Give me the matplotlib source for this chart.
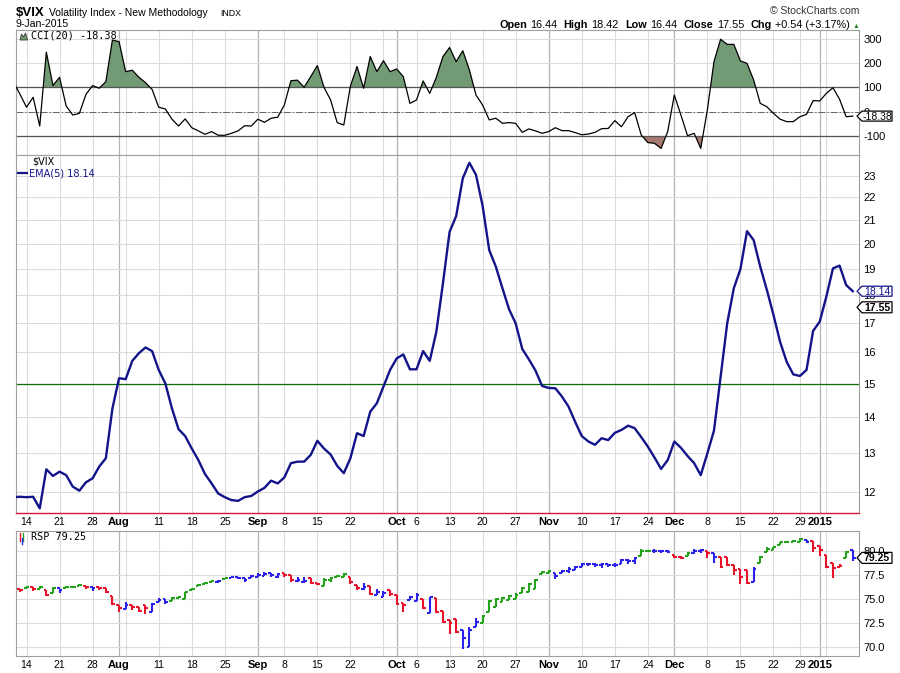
import numpy as np
import pandas as pd
import matplotlib
matplotlib.use("Agg")
import matplotlib.pyplot as plt
from matplotlib.patches import Polygon
from matplotlib.transforms import Affine2D
from matplotlib.ticker import NullLocator, FixedLocator

plt.rcParams['font.family'] = ['Liberation Sans', 'DejaVu Sans']

# trading days 10-Jul-2014 .. 9-Jan-2015
holidays = ["2014-09-01", "2014-11-27", "2014-12-25", "2015-01-01"]
dates = pd.bdate_range("2014-07-10", "2015-01-09")
dates = dates[~dates.isin(pd.to_datetime(holidays))]

vix_ema = [11.88, 11.89, 11.88, 11.89, 11.61, 12.58, 12.41, 12.52, 12.43, 12.14,
           12.04, 12.25, 12.35, 12.65, 12.87, 14.26, 15.17, 15.14, 15.72, 15.97,
           16.16, 16.04, 15.43, 15.01, 14.26, 13.66, 13.47, 13.13, 12.82, 12.46,
           12.22, 11.97, 11.88, 11.81, 11.79, 11.88, 11.91, 12.02, 12.11, 12.29,
           12.22, 12.37, 12.74, 12.78, 12.78, 12.96, 13.34, 13.13, 12.97, 12.67,
           12.48, 12.87, 13.55, 13.47, 14.16, 14.41, 14.91, 15.43, 15.80, 15.93,
           15.45, 15.45, 16.04, 15.72, 16.69, 18.44, 20.49, 21.17, 22.88, 23.62,
           23.04, 21.62, 19.74, 19.08, 18.25, 17.48, 16.98, 16.11, 15.77, 15.41,
           14.93, 14.87, 14.86, 14.61, 14.31, 13.87, 13.47, 13.32, 13.23, 13.41,
           13.36, 13.56, 13.64, 13.76, 13.69, 13.44, 13.18, 12.89, 12.59, 12.82,
           13.32, 13.15, 12.93, 12.74, 12.43, 13.00, 13.62, 15.22, 16.98, 18.25,
           18.98, 20.52, 20.15, 19.08, 18.19, 17.28, 16.35, 15.69, 15.29, 15.24,
           15.43, 16.72, 17.04, 17.94, 19.01, 19.12, 18.37, 18.14]

cci = [123, 72, 18, 59, -59, 244, 107, 141, 23, -14,
       -7, 71, 107, 96, 123, 294, 287, 164, 170, 141,
       119, 91, 18, 11, -31, -59, -30, -66, -79, -93,
       -82, -97, -97, -89, -79, -58, -59, -31, -44, -27,
       -23, 27, 127, 129, 100, 144, 189, 100, 48, -45,
       -55, 105, 185, 96, 226, 164, 209, 164, 175, 144,
       34, 48, 126, 75, 141, 226, 263, 205, 250, 171,
       68, 27, -34, -27, -48, -45, -48, -85, -71, -79,
       -89, -82, -66, -78, -78, -86, -95, -92, -85, -70,
       -69, -37, -62, -21, -4, -96, -127, -130, -151, -82,
       68, -14, -99, -89, -151, 7, 205, 297, 276, 276,
       208, 198, 130, 34, 20, -7, -31, -41, -41, -21,
       -11, 45, 44, 75, 98, 51, -21, -18.38]

rsp_open = [76.05, 75.98, 76.15, 76.26, 75.98, 75.91, 75.57, 76.09, 76.15, 76.26,
            76.33, 76.33, 76.19, 76.26, 76.09, 75.29, 74.36, 73.91, 74.36, 74.11,
            74.36, 73.60, 74.70, 74.94, 74.81, 75.05, 74.94, 75.91, 76.33, 76.54,
            76.78, 76.78, 77.05, 77.12, 77.23, 77.12, 77.12, 77.30, 77.37, 77.64,
            77.30, 77.71, 77.47, 76.88, 76.78, 77.12, 76.67, 76.33, 76.95, 77.23,
            77.30, 77.23, 76.43, 75.98, 76.33, 75.39, 75.15, 75.91, 75.39, 74.60,
            74.88, 74.81, 74.94, 73.49, 75.05, 73.77, 72.80, 72.87, 71.76, 70.03,
            72.11, 72.46, 73.67, 74.11, 74.70, 74.88, 74.94, 75.64, 75.74, 75.98,
            77.57, 77.64, 77.64, 77.64, 77.92, 77.99, 78.33, 78.58, 78.58, 78.51,
            78.58, 78.47, 78.61, 79.02, 78.96, 79.44, 79.99, 79.99, 79.99, 79.92,
            79.54, 79.37, 79.44, 79.72, 79.99, 79.99, 79.72, 79.30, 79.30, 78.51,
            78.06, 77.99, 76.78, 78.75, 79.89, 80.06, 80.58, 80.86, 80.86, 80.93,
            81.10, 81.03, 80.48, 79.54, 78.68, 78.33, 79.20, 80.06]
rsp_high = [76.09, 76.02, 76.33, 76.26, 76.33, 75.91, 76.19, 75.98, 76.33, 76.33,
            76.54, 76.33, 76.19, 76.26, 76.09, 75.29, 74.36, 74.70, 74.36, 74.18,
            74.36, 74.60, 75.05, 74.94, 75.15, 75.29, 75.74, 76.09, 76.54, 76.78,
            76.95, 76.95, 77.19, 77.30, 77.30, 77.12, 77.47, 77.64, 77.81, 77.71,
            77.64, 77.71, 77.47, 77.23, 77.23, 77.12, 76.67, 77.12, 77.30, 77.47,
            77.64, 77.23, 76.43, 76.60, 76.33, 75.98, 75.81, 75.91, 75.39, 74.60,
            75.29, 75.64, 74.94, 75.22, 75.05, 73.77, 72.80, 72.87, 71.76, 72.11,
            72.97, 73.32, 74.88, 75.05, 75.15, 75.39, 75.57, 76.26, 76.67, 77.02,
            77.92, 77.99, 77.64, 77.99, 78.26, 78.40, 78.68, 78.68, 78.68, 78.75,
            78.61, 78.68, 79.09, 79.09, 79.30, 80.13, 80.06, 80.13, 80.06, 80.06,
            79.54, 79.44, 79.89, 80.13, 80.13, 79.99, 79.72, 79.30, 79.30, 78.51,
            78.06, 77.99, 78.26, 79.44, 80.34, 80.41, 80.93, 80.93, 81.10, 81.27,
            81.10, 81.03, 80.48, 79.54, 78.68, 78.61, 79.99, 80.06]
rsp_low = [75.74, 75.67, 76.15, 75.84, 75.98, 75.29, 75.57, 75.57, 76.15, 76.19,
           76.33, 76.05, 75.81, 75.91, 75.57, 74.36, 73.67, 73.91, 73.84, 73.67,
           73.42, 73.60, 74.70, 74.46, 74.81, 75.05, 74.94, 75.91, 76.33, 76.54,
           76.78, 76.67, 77.05, 77.12, 77.02, 76.78, 77.12, 77.30, 77.37, 77.30,
           77.12, 77.30, 76.78, 76.78, 76.67, 76.54, 76.40, 76.33, 76.78, 77.23,
           77.30, 76.54, 75.91, 75.91, 75.39, 75.39, 75.15, 75.29, 74.36, 73.67,
           74.88, 74.81, 73.91, 73.49, 73.56, 72.52, 71.35, 71.42, 69.76, 70.03,
           72.11, 72.46, 73.67, 74.11, 74.70, 74.88, 74.94, 75.64, 75.74, 75.98,
           77.57, 77.64, 77.02, 77.64, 77.64, 77.99, 78.33, 78.40, 78.33, 78.16,
           78.26, 78.26, 78.61, 78.61, 78.61, 79.44, 79.89, 79.79, 79.79, 79.72,
           79.20, 79.09, 79.44, 79.65, 79.79, 79.20, 78.68, 78.16, 78.40, 77.47,
           76.54, 76.54, 76.78, 78.75, 79.89, 80.06, 80.58, 80.75, 80.86, 80.93,
           80.75, 79.89, 79.44, 78.16, 77.12, 78.26, 79.20, 78.96]
rsp_close = [75.98, 75.91, 76.26, 75.98, 76.26, 75.39, 76.09, 75.91, 76.26, 76.26,
             76.43, 76.26, 76.09, 76.09, 75.74, 74.43, 74.08, 74.36, 74.11, 73.77,
             74.01, 74.46, 74.88, 74.70, 75.05, 75.22, 75.67, 75.98, 76.43, 76.67,
             76.88, 76.88, 77.12, 77.23, 77.12, 76.95, 77.37, 77.47, 77.57, 77.47,
             77.57, 77.47, 76.95, 76.95, 76.88, 76.60, 76.54, 76.95, 77.12, 77.37,
             77.57, 76.78, 76.09, 76.26, 75.50, 75.74, 75.57, 75.46, 74.43, 74.36,
             75.15, 75.39, 74.01, 75.15, 73.67, 72.63, 72.46, 71.59, 70.90, 71.76,
             72.63, 73.22, 74.81, 74.94, 75.05, 75.33, 75.39, 76.09, 76.54, 76.95,
             77.81, 77.88, 77.37, 77.92, 78.06, 78.33, 78.58, 78.61, 78.51, 78.58,
             78.47, 78.51, 79.02, 78.96, 79.20, 79.99, 79.99, 79.99, 79.92, 79.89,
             79.37, 79.27, 79.72, 79.99, 80.06, 79.79, 79.37, 78.33, 78.51, 77.99,
             77.30, 76.60, 78.06, 79.37, 80.13, 80.34, 80.86, 80.86, 81.03, 81.17,
             80.93, 80.24, 80.06, 78.33, 78.16, 78.40, 79.89, 79.25]
rsp_colour = ("rrgrgrgbgg" "grbrrrrbrr" "rbbbgggggg" "gbgbbbbbbb" "brrbbrrggg"
              "grrbrbbrrr" "bbrbrrrrbb" "bggggggggg" "ggbbbbbbbb" "bbbbbggbbb"
              "rrgbbrbrrr" "rrbggggggg" "brrrrrgb")

vix_close = 17.55
cci_ticks = [-100, 0, 100, 200, 300]
vix_ticks = [12, 13, 14, 15, 16, 17, 18, 19, 20, 21, 22, 23]
rsp_ticks = [70.0, 72.5, 75.0, 77.5, 80.0]
header = [("Open", True), ("16.44", False), ("High", True), ("18.42", False),
          ("Low", True), ("16.44", False), ("Close", True), ("17.55", False),
          ("Chg", True), ("+0.54 (+3.17%)", False)]

W, H = 900, 673
fig = plt.figure(figsize=(9, 6.73), dpi=100)
pix = Affine2D().scale(1 / W, -1 / H).translate(0, 1) + fig.transFigure


def rect(l, t, r, b):
    return [l / W, 1 - b / H, (r - l) / W, (b - t) / H]


ax_cci = fig.add_axes(rect(16, 30, 859, 155))
ax_vix = fig.add_axes(rect(16, 155, 859, 512.7))
ax_rsp = fig.add_axes(rect(16, 530.7, 859, 656))

idx = np.arange(len(dates))
cci = np.array(cci, dtype=float)

# x grid: mondays (light) and first trading day of month (dark)
month_pos, week_pos = [], []
for i in range(1, len(dates)):
    if dates[i].month != dates[i - 1].month:
        month_pos.append(i)
    elif dates[i].weekday() == 0:
        week_pos.append(i)
tick_pos, tick_lab, tick_bold = [], [], []
for i in sorted(month_pos + week_pos):
    if i in month_pos:
        d = dates[i]
        tick_pos.append(i)
        tick_lab.append(str(d.year) if d.month == 1 else d.strftime("%b"))
        tick_bold.append(True)
    elif min(abs(i - m) for m in month_pos) > 2:
        tick_pos.append(i)
        tick_lab.append(str(dates[i].day))
        tick_bold.append(False)

for ax in (ax_cci, ax_vix, ax_rsp):
    ax.set_xlim(0.41, 127.94)
    for i in week_pos:
        ax.axvline(i, color="#dcdcdc", lw=0.8, zorder=0)
    for i in month_pos:
        ax.axvline(i, color="#b4b4b4", lw=0.9, zorder=0)
    ax.yaxis.tick_right()
    ax.tick_params(axis="y", length=0, pad=3, labelsize=8)
    ax.tick_params(axis="x", length=0, pad=3, labelsize=7.5)
    ax.yaxis.grid(True, color="#dcdcdc", lw=0.8)
    ax.set_axisbelow(True)
    for s in ax.spines.values():
        s.set_color("#a0a0a0")
        s.set_linewidth(0.8)
    ax.set_xticks(tick_pos)

# ---- CCI panel
ax_cci.set_ylim(-178, 335)
ax_cci.set_yticks(cci_ticks)
ax_cci.set_yticklabels([str(t) for t in cci_ticks])
ax_cci.set_xticklabels([])
ax_cci.fill_between(idx, cci, 100, where=cci >= 100, interpolate=True,
                    color="#729a74", lw=0, zorder=1)
ax_cci.fill_between(idx, cci, -100, where=cci <= -100, interpolate=True,
                    color="#a67a70", lw=0, zorder=1)
ax_cci.axhline(100, color="#555555", lw=0.9, zorder=2)
ax_cci.axhline(-100, color="#555555", lw=0.9, zorder=2)
ax_cci.axhline(0, color="#666666", lw=0.7, ls=(0, (7, 2, 1.5, 2)), zorder=2)
ax_cci.plot(idx, cci, color="black", lw=0.9, zorder=3)

# ---- VIX EMA panel
ax_vix.set_yscale("log")
ax_vix.set_ylim(11.507, 24.0)
ax_vix.yaxis.set_major_locator(FixedLocator(vix_ticks))
ax_vix.yaxis.set_minor_locator(NullLocator())
ax_vix.set_yticklabels([str(t) for t in vix_ticks])
ax_vix.axhline(15, color="#0a6e0a", lw=0.9, zorder=2)
ax_vix.plot(idx, vix_ema, color="#13138a", lw=1.7, zorder=3)
ax_vix.spines["bottom"].set_color("#d8143c")
ax_vix.spines["bottom"].set_linewidth(1.0)

# ---- RSP panel (OHLC bars)
ax_rsp.set_ylim(69.07, 82.07)
ax_rsp.set_yticks(rsp_ticks)
ax_rsp.set_yticklabels(["%.1f" % t for t in rsp_ticks])
cmap = {"r": "#e8132b", "g": "#24a31a", "b": "#2a22ec"}
for i in idx:
    c = cmap[rsp_colour[i]]
    kw = dict(color=c, lw=1.5, solid_capstyle="butt", zorder=3)
    ax_rsp.plot([i, i], [rsp_low[i], rsp_high[i]], **kw)
    ax_rsp.plot([i - 0.42, i], [rsp_open[i], rsp_open[i]], **kw)
    ax_rsp.plot([i, i + 0.42], [rsp_close[i], rsp_close[i]], **kw)

for ax in (ax_vix, ax_rsp):
    ax.set_xticklabels(tick_lab)
    for lab, b in zip(ax.get_xticklabels(), tick_bold):
        if b:
            lab.set_fontweight("bold")
            lab.set_fontsize(8)

# ---- header texts
fig.text(16, 16, "$VIX", transform=pix, fontsize=9.5, fontweight="bold", va="baseline")
fig.text(49, 16, "Volatility Index - New Methodology", transform=pix, fontsize=7.5,
         va="baseline")
fig.text(220, 16, "INDX", transform=pix, fontsize=6.3, va="baseline")
fig.text(16, 27, "9-Jan-2015", transform=pix, fontsize=7.6, va="baseline")
fig.text(859, 14, "\u00a9 StockCharts.com", transform=pix, fontsize=7.5, ha="right",
         va="baseline", color="#333333")

renderer = fig.canvas.get_renderer()
x = 499
for s, b in header:
    t = fig.text(x, 27.5, s, transform=pix, fontsize=7.8,
                 fontweight="bold" if b else "normal", va="baseline")
    x += t.get_window_extent(renderer).width + (3.5 if b else 6.3)
fig.text(x - 4, 27.5, "\u25b2", transform=pix, fontsize=5, color="#2a8a2a",
         va="baseline")

# ---- panel legends
mount = [(20, 40), (21.5, 34), (23.5, 37), (25.5, 33), (27.5, 40)]
fig.add_artist(Polygon(mount, closed=True, transform=pix, fc="#729a74",
                       ec="#333333", lw=0.6))
fig.text(31, 36, "CCI(20) -18.38", transform=pix, fontsize=7.3,
         family="DejaVu Sans Mono", va="center")
fig.text(32, 162, "$VIX", transform=pix, fontsize=7, family="DejaVu Sans",
         va="center")
fig.add_artist(plt.Line2D([18, 27], [173, 173], transform=pix, color="#13138a", lw=1.6))
fig.text(29, 173, "EMA(5) 18.14", transform=pix, fontsize=7, family="DejaVu Sans",
         color="#13138a", va="center")
fig.add_artist(plt.Line2D([20, 20], [533, 541], transform=pix, color="#e8132b", lw=1))
fig.add_artist(plt.Line2D([23, 23], [533, 541], transform=pix, color="#24a31a", lw=1))
fig.add_artist(plt.Line2D([21.5, 21.5], [538, 544], transform=pix, color="#2a22ec", lw=1))
fig.text(31, 537.5, "RSP 79.25", transform=pix, fontsize=7.3,
         family="DejaVu Sans Mono", va="center")


# ---- value tags on the right
def tag(ax, y, text, ec, tc, bold, h=10, w=35):
    yd = ax.transData.transform((ax.get_xlim()[1], y))[1]
    yp = H - yd
    x0 = 857
    pts = [(x0, yp), (x0 + 5, yp - h / 2), (x0 + w, yp - h / 2),
           (x0 + w, yp + h / 2), (x0 + 5, yp + h / 2)]
    fig.add_artist(Polygon(pts, closed=True, transform=pix, fc="white", ec=ec,
                           lw=0.9, zorder=5))
    fig.text(x0 + 5 + (w - 5) / 2, yp + 0.5, text, transform=pix, fontsize=7.5,
             ha="center", va="center", color=tc,
             fontweight="bold" if bold else "normal", zorder=6)


tag(ax_cci, cci[-1], "-18.38", "black", "black", False)
tag(ax_vix, vix_ema[-1], "18.14", "#13138a", "#13138a", False)
tag(ax_vix, vix_close, "17.55", "black", "black", True, h=11)
tag(ax_rsp, rsp_close[-1], "79.25", "black", "black", True, h=11)

fig.savefig("out.png", dpi=100)
